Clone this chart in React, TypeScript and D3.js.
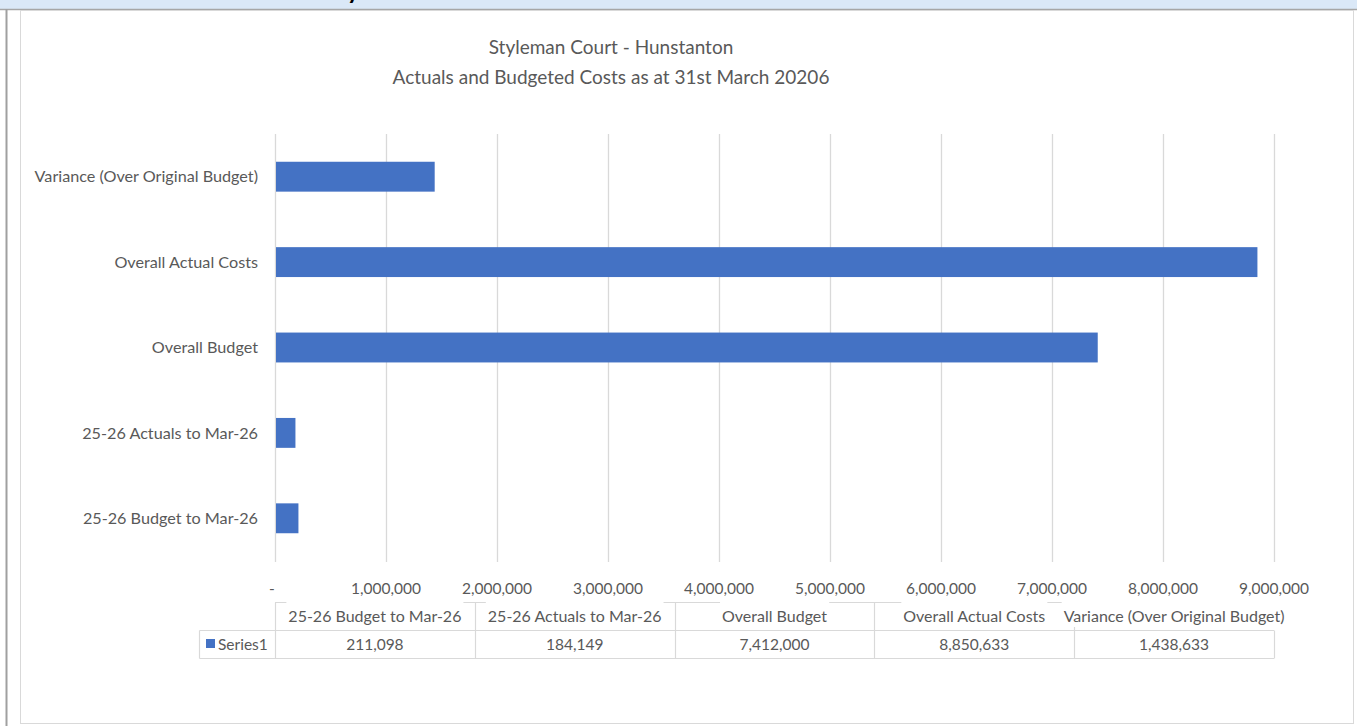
import React, { useEffect, useRef } from "react";
import * as d3 from "d3";

const categories = [
  "25-26 Budget to Mar-26",
  "25-26 Actuals to Mar-26",
  "Overall Budget",
  "Overall Actual Costs",
  "Variance (Over Original Budget)",
];
const values = [211098, 184149, 7412000, 8850633, 1438633];
const seriesName = "Series1";
const tickValues = [0, 1000000, 2000000, 3000000, 4000000, 5000000, 6000000, 7000000, 8000000, 9000000];
const titleLines = ["Styleman Court - Hunstanton", "Actuals and Budgeted Costs as at 31st March 20206"];

const W = 1357;
const H = 726;
const FONT = "Lato, 'Open Sans', sans-serif";
const TEXT = "#595959";
const GRID = "#d9d9d9";
const BAR = "#4472c4";

export default function App() {
  const ref = useRef<SVGSVGElement | null>(null);

  useEffect(() => {
    const svg = d3.select(ref.current);
    svg.selectAll("*").remove();

    // page frame
    svg.append("rect").attr("x", 0).attr("y", 0).attr("width", W).attr("height", H).attr("fill", "#ffffff");
    svg.append("rect").attr("x", 0).attr("y", 0).attr("width", W).attr("height", 9).attr("fill", "#dae8f7");
    svg.append("text").attr("x", 347).attr("y", -1.5).attr("font-family", FONT).attr("font-weight", "bold")
      .attr("font-size", 24).attr("fill", "#000").text("y");
    svg.append("line").attr("x1", 0).attr("x2", W).attr("y1", 9.5).attr("y2", 9.5).attr("stroke", "#a6a6a6").attr("stroke-width", 1.5);
    svg.append("line").attr("x1", 6.5).attr("x2", 6.5).attr("y1", 9).attr("y2", H).attr("stroke", "#a0a0a0").attr("stroke-width", 2);
    svg.append("rect").attr("x", 20.5).attr("y", 10.5).attr("width", 1333).attr("height", 713)
      .attr("fill", "#ffffff").attr("stroke", "#d9d9d9").attr("stroke-width", 1);

    // title
    const title = svg.append("text").attr("text-anchor", "middle").attr("font-family", FONT)
      .attr("font-size", 19).attr("fill", TEXT);
    titleLines.forEach((t, i) => {
      title.append("tspan").attr("x", 611).attr("y", 54 + i * 30).text(t);
    });

    const x = d3.scaleLinear().domain([0, 9000000]).range([275, 1274]);
    const y = d3.scaleBand<string>().domain(categories).range([561, 134]).paddingInner(0.65).paddingOuter(0.325);

    // gridlines
    svg.append("g").selectAll("line").data(tickValues).join("line")
      .attr("x1", (d) => Math.round(x(d)) + 0.5).attr("x2", (d) => Math.round(x(d)) + 0.5)
      .attr("y1", 134).attr("y2", 562).attr("stroke", GRID).attr("stroke-width", 1.3);

    // bars
    svg.append("g").selectAll("rect").data(categories).join("rect")
      .attr("x", x(0) + 1).attr("y", (d) => y(d)!)
      .attr("width", (d, i) => x(values[i]) - x(0) - 1).attr("height", y.bandwidth())
      .attr("fill", BAR);

    // category labels
    svg.append("g").selectAll("text").data(categories).join("text")
      .attr("x", 258).attr("y", (d) => y(d)! + y.bandwidth() / 2).attr("dy", "0.35em")
      .attr("text-anchor", "end").attr("font-family", FONT).attr("font-size", 16.2).attr("fill", TEXT)
      .text((d) => d);

    // x tick labels
    const fmt = d3.format(",");
    svg.append("g").selectAll("text").data(tickValues).join("text")
      .attr("x", (d) => (d === 0 ? x(d) - 3 : x(d))).attr("y", 594)
      .attr("text-anchor", "middle").attr("font-family", FONT).attr("font-size", 15.5).attr("fill", TEXT)
      .text((d) => (d === 0 ? "-" : fmt(d)));

    // data table
    const colW = (x(9000000) - x(0)) / categories.length;
    const colX = (i: number) => x(0) + i * colW;
    const hTop = 602.5, rowMid = 630.5, rowBot = 658.5, legL = 199.5;
    const tg = svg.append("g").attr("stroke", GRID).attr("stroke-width", 1.2).attr("fill", "none");
    tg.append("line").attr("x1", x(0)).attr("x2", x(9000000)).attr("y1", hTop).attr("y2", hTop);
    tg.append("line").attr("x1", legL).attr("x2", x(9000000)).attr("y1", rowMid).attr("y2", rowMid);
    tg.append("line").attr("x1", legL).attr("x2", x(9000000)).attr("y1", rowBot).attr("y2", rowBot);
    tg.append("line").attr("x1", legL).attr("x2", legL).attr("y1", rowMid).attr("y2", rowBot);
    d3.range(categories.length + 1).forEach((i) => {
      const xx = Math.round(colX(i)) + 0.5;
      tg.append("line").attr("x1", xx).attr("x2", xx).attr("y1", i === categories.length ? rowMid : hTop).attr("y2", rowBot);
    });

    // header labels with white backgrounds
    const hg = svg.append("g");
    categories.forEach((c, i) => {
      const cx = colX(i) + colW / 2;
      const bg = hg.append("rect").attr("fill", "#ffffff");
      const t = hg.append("text").attr("x", cx).attr("y", 622).attr("text-anchor", "middle")
        .attr("font-family", FONT).attr("font-size", 16).attr("fill", TEXT).text(c);
      const bb = (t.node() as SVGTextElement).getBBox();
      bg.attr("x", bb.x - 2).attr("y", 601).attr("width", bb.width + 4).attr("height", 26);
    });

    // values
    svg.append("g").selectAll("text").data(values).join("text")
      .attr("x", (d, i) => colX(i) + colW / 2).attr("y", 650).attr("text-anchor", "middle")
      .attr("font-family", FONT).attr("font-size", 15.5).attr("fill", TEXT).text((d) => fmt(d));

    // legend key
    svg.append("rect").attr("x", 206).attr("y", 639).attr("width", 9).attr("height", 9).attr("fill", BAR);
    svg.append("text").attr("x", 218).attr("y", 650).attr("font-family", FONT).attr("font-size", 15.5)
      .attr("fill", TEXT).text(seriesName);
  }, []);

  return (
    <div style={{ position: "fixed", left: 0, top: 0, width: W, height: H }}>
      <svg ref={ref} width={W} height={H} style={{ display: "block" }} />
    </div>
  );
}
